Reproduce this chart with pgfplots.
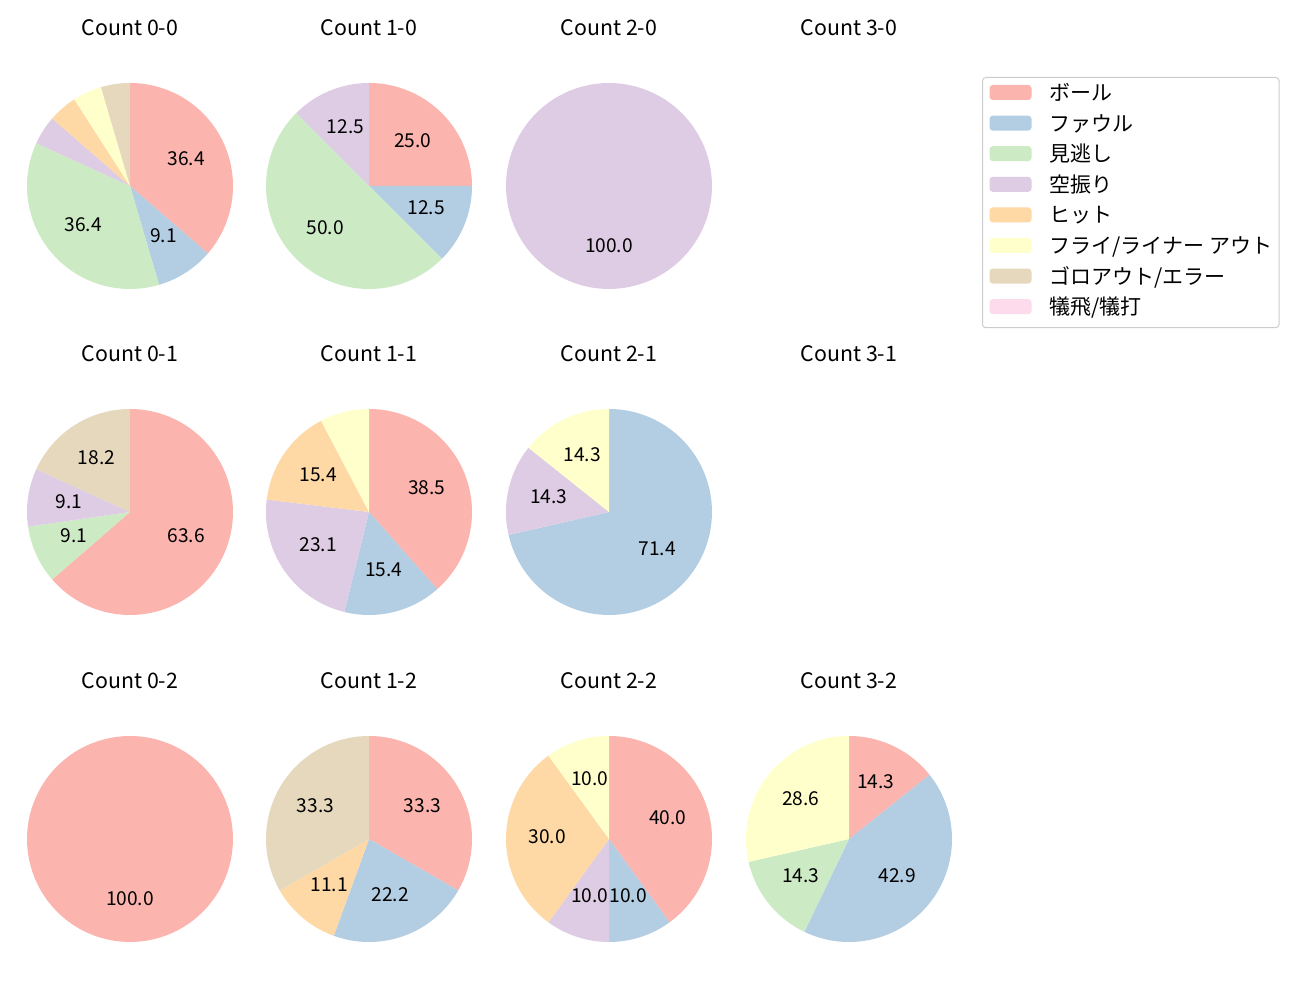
\documentclass[border=0pt]{standalone}
\usepackage{fontspec}
\setmainfont{Noto Sans CJK JP}
\usepackage{pgfplots}
\pgfplotsset{compat=1.18}

\definecolor{pA}{HTML}{FBB4AE}
\definecolor{pB}{HTML}{B3CDE3}
\definecolor{pC}{HTML}{CCEBC5}
\definecolor{pD}{HTML}{DECBE4}
\definecolor{pE}{HTML}{FED9A6}
\definecolor{pF}{HTML}{FFFFCC}
\definecolor{pG}{HTML}{E5D8BD}
\definecolor{pH}{HTML}{FDDAEC}

\newcommand\lab{\fontsize{11.5}{13}\selectfont}

% counts per category, drawn clockwise from the top
\newcommand\pie[1]{%
  \gdef\pietot{0}%
  \foreach \pv/\pc in {#1}{\pgfmathsetmacro\tmpsum{\pietot+\pv}\xdef\pietot{\tmpsum}}%
  \gdef\piecum{0}%
  \foreach \pv/\pc in {#1}{%
    \pgfmathsetmacro\pa{90-360*\piecum/\pietot}%
    \pgfmathsetmacro\pb{90-360*(\piecum+\pv)/\pietot}%
    \pgfmathsetmacro\pm{(\pa+\pb)/2}%
    \pgfmathsetmacro\lx{0.6*cos(\pm)}%
    \pgfmathsetmacro\ly{0.6*sin(\pm)}%
    \pgfmathsetmacro\pp{100*\pv/\pietot}%
    \edef\tmp{\noexpand\addplot[fill=\pc,draw=none,domain=\pb:\pa,samples=100]
      ({cos(x)},{sin(x)}) -- (axis cs:0,0) -- cycle;}\tmp
    \ifdim\pp pt>8pt
      \edef\tmp{\noexpand\node[font=\noexpand\lab,inner sep=0pt,yshift=1.2pt] at (axis cs:\lx,\ly)
        {\noexpand\pgfmathprintnumber[fixed,fixed zerofill,precision=1,assume math mode=true]{\pp}};}\tmp
    \fi
    \pgfmathsetmacro\tmpsum{\piecum+\pv}\xdef\piecum{\tmpsum}%
  }%
}

\pgfplotsset{
  pieax/.style={scale only axis, width=123.6pt, height=123.6pt,
    xmin=-1, xmax=1, ymin=-1, ymax=1, hide axis, clip=false, anchor=center,
    title style={at={(0.5,1)}, anchor=base, yshift=22.2pt, inner sep=0pt,
      font=\fontsize{12.8}{15}\selectfont}},
}

\begin{document}
\begin{tikzpicture}
\useasboundingbox (0,0) rectangle (780pt,600pt);

% row 1
\begin{axis}[pieax, at={(78pt,488.4pt)}, title={Count 0-0}]
\pie{8/pA,2/pB,8/pC,1/pD,1/pE,1/pF,1/pG}
\end{axis}
\begin{axis}[pieax, at={(221.4pt,488.4pt)}, title={Count 1-0}]
\pie{2/pA,1/pB,4/pC,1/pD}
\end{axis}
\begin{axis}[pieax, at={(365.4pt,488.4pt)}, title={Count 2-0}]
\pie{1/pD}
\end{axis}
\begin{axis}[pieax, at={(509.4pt,488.4pt)}, title={Count 3-0}]
\end{axis}

% row 2
\begin{axis}[pieax, at={(78pt,292.8pt)}, title={Count 0-1}]
\pie{7/pA,1/pC,1/pD,2/pG}
\end{axis}
\begin{axis}[pieax, at={(221.4pt,292.8pt)}, title={Count 1-1}]
\pie{5/pA,2/pB,3/pD,2/pE,1/pF}
\end{axis}
\begin{axis}[pieax, at={(365.4pt,292.8pt)}, title={Count 2-1}]
\pie{5/pB,1/pD,1/pF}
\end{axis}
\begin{axis}[pieax, at={(509.4pt,292.8pt)}, title={Count 3-1}]
\end{axis}

% row 3
\begin{axis}[pieax, at={(78pt,96.6pt)}, title={Count 0-2}]
\pie{1/pA}
\end{axis}
\begin{axis}[pieax, at={(221.4pt,96.6pt)}, title={Count 1-2}]
\pie{3/pA,2/pB,1/pE,3/pG}
\end{axis}
\begin{axis}[pieax, at={(365.4pt,96.6pt)}, title={Count 2-2}]
\pie{4/pA,1/pB,1/pD,3/pE,1/pF}
\end{axis}
\begin{axis}[pieax, at={(509.4pt,96.6pt)}, title={Count 3-2}]
\pie{1/pA,3/pB,1/pC,2/pF}
\end{axis}

% legend
\begin{axis}[at={(589.2pt,553.8pt)}, anchor=north west, scale only axis,
  width=20pt, height=20pt, hide axis, xmin=0, xmax=1, ymin=0, ymax=1,
  legend image code/.code={\fill[#1] (0pt,0.3pt) rectangle (25.2pt,9.3pt);},
  legend style={at={(0,1)}, anchor=north west, draw=black!20, line width=0.6pt,
    rounded corners=2pt, inner xsep=4.2pt, inner ysep=4.2pt, row sep=5.16pt,
    column sep=10.8pt, font=\fontsize{12.6}{15}\selectfont,
    nodes={inner sep=0pt, text height=9.6pt, text depth=3.6pt},
    cells={anchor=base west}}]
\addlegendimage{fill=pA, draw=none}\addlegendentry{ボール}
\addlegendimage{fill=pB, draw=none}\addlegendentry{ファウル}
\addlegendimage{fill=pC, draw=none}\addlegendentry{見逃し}
\addlegendimage{fill=pD, draw=none}\addlegendentry{空振り}
\addlegendimage{fill=pE, draw=none}\addlegendentry{ヒット}
\addlegendimage{fill=pF, draw=none}\addlegendentry{フライ/ライナー アウト}
\addlegendimage{fill=pG, draw=none}\addlegendentry{ゴロアウト/エラー}
\addlegendimage{fill=pH, draw=none}\addlegendentry{犠飛/犠打\hspace{1.8pt}}
\end{axis}
\end{tikzpicture}
\end{document}
